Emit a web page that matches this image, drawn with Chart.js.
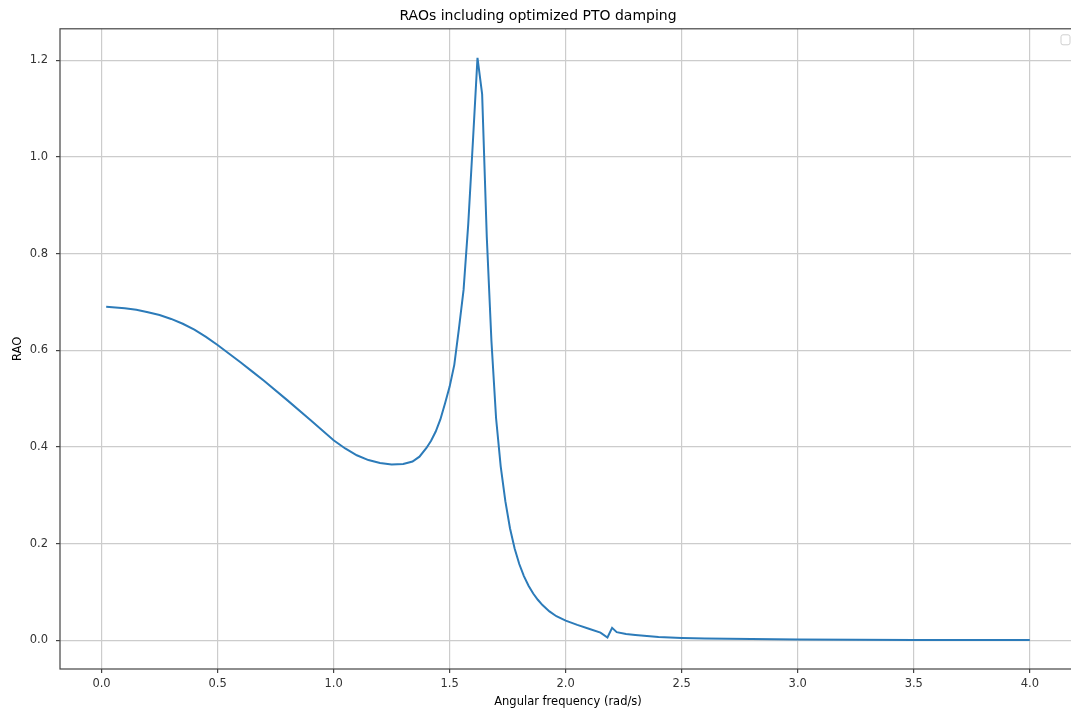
<!DOCTYPE html>
<html>
<head>
<meta charset="utf-8">
<title>RAOs including optimized PTO damping</title>
<script src="https://cdn.jsdelivr.net/npm/chart.js@4.4.0/dist/chart.umd.min.js"></script>
<style>
    html, body { margin: 0; padding: 0; background: #fff; overflow: hidden; }
    #wrap { width: 1076px; height: 713px; }
</style>
</head>
<body>
<div id="wrap"><canvas id="rao-chart" width="1076" height="713"></canvas></div>
<script>
// Angular frequency (rad/s) and RAO
const freq = [0.02, 0.10, 0.15, 0.20, 0.25, 0.30, 0.35, 0.40, 0.45, 0.50,
              0.55, 0.60, 0.65, 0.70, 0.80, 0.90, 1.00, 1.05, 1.10, 1.15,
              1.20, 1.25, 1.30, 1.34, 1.37, 1.40, 1.42, 1.44, 1.46, 1.48,
              1.50, 1.52, 1.54, 1.56, 1.58, 1.60, 1.62, 1.64, 1.66, 1.68,
              1.70, 1.72, 1.74, 1.76, 1.78, 1.80, 1.82, 1.84, 1.86, 1.88,
              1.90, 1.93, 1.96, 2.00, 2.05, 2.10, 2.15, 2.18, 2.20, 2.22,
              2.26, 2.30, 2.35, 2.40, 2.50, 2.60, 2.80, 3.00, 3.50, 4.00];
const rao = [0.690, 0.687, 0.684, 0.679, 0.673, 0.665, 0.655, 0.643, 0.628, 0.611,
             0.593, 0.575, 0.556, 0.537, 0.497, 0.456, 0.414, 0.397, 0.383, 0.373,
             0.367, 0.364, 0.365, 0.370, 0.380, 0.398, 0.413, 0.432, 0.457, 0.490,
             0.525, 0.570, 0.645, 0.725, 0.860, 1.030, 1.205, 1.130, 0.835, 0.620,
             0.460, 0.360, 0.288, 0.232, 0.190, 0.158, 0.133, 0.113, 0.097, 0.084,
             0.073, 0.060, 0.050, 0.041, 0.032, 0.024, 0.016, 0.006, 0.026, 0.017,
             0.013, 0.011, 0.009, 0.007, 0.005, 0.004, 0.003, 0.002, 0.001, 0.001];

const xTicks = [0, 0.5, 1.0, 1.5, 2.0, 2.5, 3.0, 3.5, 4.0];
const yTicks = [0, 0.2, 0.4, 0.6, 0.8, 1.0, 1.2];

// matplotlib style 5% margins around the data
const xSpan = Math.max(...freq) - Math.min(...freq);
const ySpan = Math.max(...rao) - Math.min(...rao);
const xMin = Math.min(...freq) - 0.05 * xSpan;
const xMax = Math.max(...freq) + 0.05 * xSpan;
const yMin = Math.min(...rao) - 0.05 * ySpan;
const yMax = Math.max(...rao) + 0.05 * ySpan;

Chart.defaults.font.family = "'DejaVu Sans', sans-serif";
Chart.defaults.color = '#333';

// axes frame + the empty legend box in the top right corner
const framePlugin = {
    id: 'frame',
    afterDraw(chart) {
        const a = chart.chartArea;
        const ctx = chart.ctx;
        ctx.save();
        ctx.strokeStyle = '#444';
        ctx.lineWidth = 1.2;
        ctx.strokeRect(a.left, a.top, a.right - a.left, a.bottom - a.top);
        ctx.fillStyle = '#fff';
        ctx.strokeStyle = '#cfcfcf';
        ctx.lineWidth = 1;
        ctx.beginPath();
        ctx.roundRect(a.right - 15, a.top + 6, 9, 10, 2);
        ctx.fill();
        ctx.stroke();
        ctx.restore();
    }
};

const ctx = document.getElementById('rao-chart').getContext('2d');
new Chart(ctx, {
    type: 'line',
    data: {
        datasets: [{
            data: freq.map((f, i) => ({ x: f, y: rao[i] })),
            borderColor: '#2c7bb9',
            borderWidth: 2,
            pointRadius: 0,
            tension: 0,
            fill: false
        }]
    },
    options: {
        responsive: false,
        animation: false,
        layout: { padding: 0 },
        plugins: {
            legend: { display: false },
            tooltip: { enabled: false },
            title: {
                display: true,
                text: 'RAOs including optimized PTO damping',
                color: '#000',
                font: { size: 14, weight: 'normal' },
                padding: { top: 8, bottom: 4 }
            }
        },
        scales: {
            x: {
                type: 'linear',
                min: xMin,
                max: xMax,
                afterBuildTicks: scale => { scale.ticks = xTicks.map(v => ({ value: v })); },
                afterFit: scale => { scale.height = 44; },
                ticks: {
                    includeBounds: false,
                    padding: 4,
                    font: { size: 11.5 },
                    maxRotation: 0,
                    callback: v => v.toFixed(1)
                },
                grid: { color: '#cccccc', lineWidth: 1.2, tickLength: 4, tickColor: '#444' },
                border: { display: false },
                title: {
                    display: true,
                    text: 'Angular frequency (rad/s)',
                    color: '#000',
                    font: { size: 11.5 },
                    padding: { top: 0, bottom: 4 }
                }
            },
            y: {
                type: 'linear',
                min: yMin,
                max: yMax,
                afterBuildTicks: scale => { scale.ticks = yTicks.map(v => ({ value: v })); },
                afterFit: scale => { scale.width = 60; },
                ticks: {
                    includeBounds: false,
                    padding: 8,
                    font: { size: 11.5 },
                    callback: v => v.toFixed(1)
                },
                grid: { color: '#cccccc', lineWidth: 1.2, tickLength: 4, tickColor: '#444' },
                border: { display: false },
                title: {
                    display: true,
                    text: 'RAO',
                    color: '#000',
                    font: { size: 11.5 },
                    padding: { top: 11, bottom: 4 }
                }
            }
        }
    },
    plugins: [framePlugin]
});
</script>
</body>
</html>
